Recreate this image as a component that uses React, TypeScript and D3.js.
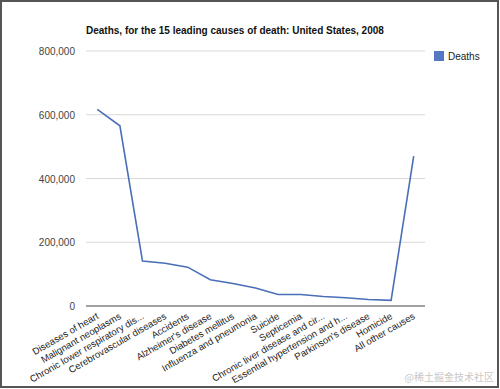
import React, { useEffect, useRef } from "react";
import * as d3 from "d3";

// causes of death, in the order shown on the x axis
const causes = [
  "Diseases of heart",
  "Malignant neoplasms",
  "Chronic lower respiratory dis...",
  "Cerebrovascular diseases",
  "Accidents",
  "Alzheimer's disease",
  "Diabetes mellitus",
  "Influenza and pneumonia",
  "Suicide",
  "Septicemia",
  "Chronic liver disease and cir...",
  "Essential hypertension and h...",
  "Parkinson's disease",
  "Homicide",
  "All other causes",
];

const deaths = [
  616828, 565469, 141090, 134148, 121902, 82435, 70553, 56284, 36035, 35961,
  29963, 25742, 20483, 17826, 470000,
];

const yTicks = [0, 200000, 400000, 600000, 800000];

const seriesName = "Deaths";
const title = "Deaths, for the 15 leading causes of death: United States, 2008";

const App = () => {
  const ref = useRef<SVGSVGElement>(null);

  useEffect(() => {
    const width = 500;
    const height = 389;
    const margin = { top: 51, right: 75, bottom: 83, left: 86 };

    const svg = d3.select(ref.current);
    svg.selectAll("*").remove();

    const font = "Arial, 'Liberation Sans', sans-serif";

    // white background with the dark frame of the screenshot
    svg
      .append("rect")
      .attr("x", 1)
      .attr("y", 1)
      .attr("width", width - 3)
      .attr("height", height - 3)
      .attr("fill", "#fff")
      .attr("stroke", "#555")
      .attr("stroke-width", 2);

    const data = causes.map((c, i) => ({ cause: c, value: deaths[i] }));

    const xScale = d3
      .scaleBand()
      .domain(causes)
      .range([margin.left, width - margin.right]);

    const yScale = d3
      .scaleLinear()
      .domain([0, 800000])
      .range([height - margin.bottom, margin.top]);

    // gridlines
    svg
      .append("g")
      .selectAll("line")
      .data(yTicks.filter((t) => t > 0))
      .enter()
      .append("line")
      .attr("x1", margin.left)
      .attr("x2", width - margin.right)
      .attr("y1", (d) => yScale(d))
      .attr("y2", (d) => yScale(d))
      .attr("stroke", "#d9d9d9")
      .attr("stroke-width", 1);

    // baseline
    svg
      .append("line")
      .attr("x1", margin.left)
      .attr("x2", width - margin.right)
      .attr("y1", yScale(0))
      .attr("y2", yScale(0))
      .attr("stroke", "#444")
      .attr("stroke-width", 1);

    // y tick labels
    const fmt = d3.format(",");
    svg
      .append("g")
      .selectAll("text")
      .data(yTicks)
      .enter()
      .append("text")
      .attr("x", margin.left - 11)
      .attr("y", (d) => yScale(d) + 4)
      .attr("text-anchor", "end")
      .attr("font-family", font)
      .attr("font-size", 10)
      .attr("fill", "#444")
      .text((d) => fmt(d));

    // slanted x labels
    svg
      .append("g")
      .selectAll("text")
      .data(causes)
      .enter()
      .append("text")
      .attr(
        "transform",
        (d) =>
          `translate(${xScale(d)! + xScale.bandwidth() / 2 + 2},${
            yScale(0) + 12
          }) rotate(-30)`
      )
      .attr("text-anchor", "end")
      .attr("font-family", font)
      .attr("font-size", 9.6)
      .attr("fill", "#222")
      .text((d) => d);

    // the line
    const line = d3
      .line<{ cause: string; value: number }>()
      .x((d) => xScale(d.cause)! + xScale.bandwidth() / 2)
      .y((d) => yScale(d.value));

    svg
      .append("path")
      .datum(data)
      .attr("d", line)
      .attr("fill", "none")
      .attr("stroke", "#4a6fb8")
      .attr("stroke-width", 1.6);

    // title
    svg
      .append("text")
      .attr("x", margin.left)
      .attr("y", 34)
      .attr("font-family", font)
      .attr("font-size", 10)
      .attr("font-weight", "bold")
      .attr("fill", "#111")
      .text(title);

    // legend
    svg
      .append("rect")
      .attr("x", 434)
      .attr("y", 51)
      .attr("width", 10)
      .attr("height", 10)
      .attr("fill", "#5577c4");
    svg
      .append("text")
      .attr("x", 448)
      .attr("y", 60)
      .attr("font-family", font)
      .attr("font-size", 10)
      .attr("fill", "#222")
      .text(seriesName);

    // watermark
    svg
      .append("text")
      .attr("x", 494)
      .attr("y", 381)
      .attr("text-anchor", "end")
      .attr("font-family", "'Noto Sans CJK SC', sans-serif")
      .attr("font-size", 10)
      .attr("fill", "#c8c8c8")
      .text("@稀土掘金技术社区");
  }, []);

  return (
    <div style={{ position: "absolute", left: 0, top: 0 }}>
      <svg ref={ref} width={500} height={389} style={{ display: "block" }} />
    </div>
  );
};

export default App;
